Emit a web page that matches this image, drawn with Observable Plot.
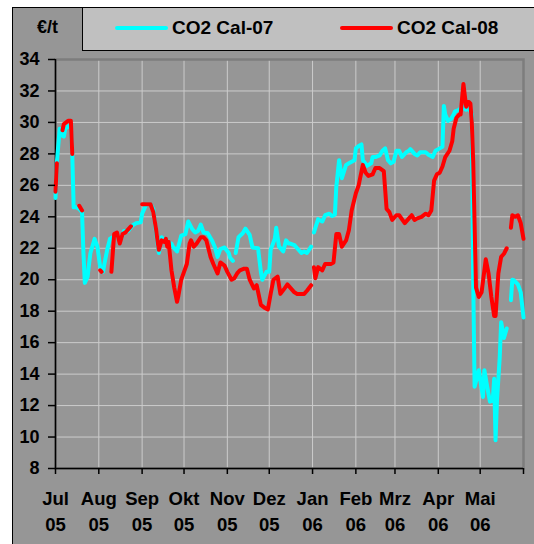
<!DOCTYPE html>
<html><head><meta charset="utf-8">
<script src="https://cdn.jsdelivr.net/npm/d3@7"></script>
<script src="https://cdn.jsdelivr.net/npm/@observablehq/plot@0.6"></script>
<style>
html,body{margin:0;padding:0;background:#fff;width:534px;height:544px;overflow:hidden;font-family:"Liberation Sans",Arial,sans-serif;}
#panel{position:absolute;left:12px;top:7px;width:540px;height:560px;background:#969696;border-left:1px solid #000;border-top:1px solid #000;}
#legend{position:absolute;left:82px;top:7px;width:470px;height:42px;background:#c0c0c0;border-left:1px solid #000;border-top:1px solid #000;border-bottom:1px solid #000;}
#unit{position:absolute;left:13px;width:69px;top:17px;text-align:center;font-weight:bold;font-size:18px;line-height:20px;color:#000;}
.sw{position:absolute;height:4px;border-radius:2px;top:26px;}
.lt{position:absolute;top:18px;font-weight:bold;font-size:19px;line-height:20px;color:#000;white-space:nowrap;}
#chart{position:absolute;left:0;top:0;}
</style>
</head><body>
<div id="panel"></div>
<div id="legend"></div>
<div id="unit">€/t</div>
<div class="sw" style="left:115px;width:53px;background:#00ffff"></div>
<div class="lt" style="left:172px">CO2 Cal-07</div>
<div class="sw" style="left:340px;width:53px;background:#ff0000"></div>
<div class="lt" style="left:397px">CO2 Cal-08</div>
<div id="chart"></div>
<script>
// Series names
const seriesNames = ["CO2 Cal-07", "CO2 Cal-08"];
// Month tick labels (axis runs Jul 2005 .. Jun 2006)
const monthLabels = ["Jul","Aug","Sep","Okt","Nov","Dez","Jan","Feb","Mrz","Apr","Mai",""];
const yearLabels  = ["05","05","05","05","05","05","06","06","06","06","06",""];
const yTicks = [8,10,12,14,16,18,20,22,24,26,28,30,32,34];

// Days since 2005-07-01 and prices (€/t); null = no quote (line gap)
const days07 = [0,1,3,4,6,7,10,11,12,13,15,17,19,20,21,23,24,25,28,30,32,34,35,37,39,41,43,45,47,49,52,55,58,61,62,64,65,68,70,72,74,76,78,80,83,84,87,90,93,95,98,100,102,104,106,109,112,114,116,118,121,124,125,127,128,129,131,134,136,139,141,145,147,148,151,153,154,157,158,160,163,165,167,168,171,173,176,178,180,183,184,185,186,188,191,193,196,198,200,201,203,205,208,210,212,214,215,217,219,220,223,226,227,229,232,234,236,238,240,242,244,246,248,251,253,254,257,259,261,264,265,267,270,272,275,277,278,279,281,283,285,286,289,291,294,296,298,299,300,303,306,307,309,311,313,314,315,316,318,319,321,323,324,326,327,328,331,333,335];
const cal07 = [25.2,27.5,29.6,29.2,29.1,29.6,29.8,29.6,28.0,24.6,24.6,24.5,24.3,21.7,19.8,20.2,21.0,21.7,22.6,22.1,20.8,20.5,21.0,21.9,22.6,22.7,22.8,22.7,22.6,23.1,23.1,23.45,23.6,23.65,24.2,24.6,24.8,24.8,24.5,23.0,21.7,22.7,22.5,22.4,22.3,22.1,21.8,22.8,22.9,23.7,23.2,23.0,23.1,23.5,23.0,22.95,22.5,22.1,21.45,21.95,22.05,21.7,21.4,21.2,null,21.7,22.7,22.95,23.25,22.85,22.05,22.0,20.5,20.0,20.5,20.5,21.9,22.6,23.3,22.1,21.8,22.5,22.3,22.3,22.2,22.0,21.7,21.8,21.7,22.1,null,23.0,23.3,23.85,23.7,24.1,24.2,24.05,24.15,25.9,27.6,26.45,27.3,27.4,27.5,27.6,28.35,28.5,28.6,27.6,27.25,27.4,27.8,27.8,27.9,28.2,28.35,27.6,27.4,27.5,28.2,28.2,27.8,28.1,28.2,28.3,28.0,27.9,28.1,28.1,28.1,27.95,27.8,28.2,28.35,28.45,31.05,30.5,30.1,30.2,30.5,30.7,30.8,31.0,30.8,30.9,30.5,20.0,13.2,14.25,12.55,14.25,13.2,12.25,12.35,13.7,9.8,12.3,15.1,17.3,16.3,16.9,null,18.7,20.0,19.97,19.7,19.2,17.6];

const days08 = [0,1,2,5,6,9,11,12,13,17,19,20,32,33,34,40,42,44,46,48,50,53,54,55,62,65,68,70,72,73,74,76,78,79,80,81,82,83,85,87,88,90,92,94,96,97,99,101,104,106,108,111,113,116,118,121,123,126,128,130,132,135,137,139,142,144,147,150,152,154,156,159,161,164,166,168,171,173,176,178,180,183,184,185,186,188,191,193,197,199,201,203,205,208,210,212,215,217,220,222,224,227,229,232,235,237,239,241,244,246,250,253,255,257,259,262,265,267,269,271,273,275,277,279,282,284,285,287,289,290,291,292,293,294,295,296,297,298,299,300,301,303,305,308,310,312,314,315,317,319,321,323,324,326,327,329,331,333,335];
const cal08 = [25.6,27.4,null,29.5,29.9,30.1,30.1,28.0,null,24.7,24.4,null,20.6,20.5,null,20.5,22.9,23.0,22.3,22.9,23.0,23.3,23.4,null,24.8,24.8,24.8,24.3,23.2,22.5,21.9,22.5,22.4,22.6,22.1,22.4,21.5,20.6,19.5,18.6,19.0,20.0,20.5,21.0,22.3,22.5,22.1,22.3,22.7,22.7,22.5,21.45,21.0,20.4,21.1,20.9,20.5,20.0,20.1,20.4,20.6,20.7,20.7,20.0,19.45,19.65,18.4,18.2,18.1,19.1,20.0,20.2,19.1,19.45,19.7,19.5,19.2,19.1,19.1,19.1,19.3,19.65,null,20.8,20.1,20.8,20.6,21.0,21.0,21.1,22.9,22.9,22.1,22.5,23.15,24.4,25.5,26.0,27.3,26.8,26.6,26.7,27.1,27.1,26.9,24.5,24.3,23.8,24.1,24.1,23.6,23.9,24.1,23.8,23.9,24.0,24.2,24.1,24.4,26.3,26.7,26.8,27.2,27.8,28.2,28.8,29.6,30.3,30.5,30.5,31.5,32.45,31.7,31.0,31.3,31.3,31.2,30.0,27.5,23.5,19.5,18.9,19.2,21.3,20.4,18.9,17.7,17.7,20.4,21.45,21.65,22.0,null,23.3,24.1,24.0,24.1,23.6,22.6];

const dayToDate = d => new Date(Date.UTC(2005, 6, 1 + d));
const rows07 = days07.map((d, i) => ({date: dayToDate(d), v: cal07[i], s: seriesNames[0]}));
const rows08 = days08.map((d, i) => ({date: dayToDate(d), v: cal08[i], s: seriesNames[1]}));

const start = new Date(Date.UTC(2005, 6, 1));
const end = new Date(Date.UTC(2006, 5, 1));
const months = d3.utcMonth.range(start, d3.utcMonth.offset(end, 1));
const monthIndex = d => (d.getUTCFullYear() - 2005) * 12 + d.getUTCMonth() - 6;

const chart = Plot.plot({
  width: 534,
  height: 544,
  marginLeft: 55,
  marginRight: 11,
  marginTop: 59,
  marginBottom: 76,
  style: {background: "transparent", fontFamily: "'Liberation Sans', Arial, sans-serif", fontSize: "18px", fontWeight: "bold", color: "#000"},
  x: {type: "utc", domain: [start, end]},
  y: {domain: [8, 34]},
  marks: [
    Plot.gridY(yTicks.slice(1, -1), {stroke: "#cccccc", strokeOpacity: 1, strokeWidth: 1}),
    Plot.gridX(months.slice(1, -1), {stroke: "#cccccc", strokeOpacity: 1, strokeWidth: 1}),
    Plot.frame({stroke: "#7d7d7d", strokeWidth: 2.5}),
    Plot.ruleX([start], {stroke: "#000", strokeWidth: 1.5}),
    Plot.ruleY([8], {stroke: "#000", strokeWidth: 1.5}),
    Plot.line(rows07, {x: "date", y: "v", stroke: "#00ffff", strokeWidth: 4, strokeLinejoin: "round", strokeLinecap: "round"}),
    Plot.line(rows08, {x: "date", y: "v", stroke: "#ff0000", strokeWidth: 4, strokeLinejoin: "round", strokeLinecap: "round"}),
    Plot.axisY({ticks: yTicks, tickSize: 7, tickPadding: 9, label: null, stroke: "#000", strokeWidth: 1.5, fontSize: 18}),
    Plot.axisX({ticks: months, tickSize: 6, tickPadding: 12, label: null, stroke: "#000", strokeWidth: 1.5, fontSize: 18.5, lineHeight: 1.42,
      tickFormat: d => { const i = monthIndex(d); return monthLabels[i] ? monthLabels[i] + "\n" + yearLabels[i] : ""; }})
  ]
});
document.getElementById("chart").appendChild(chart);
</script>
</body></html>
